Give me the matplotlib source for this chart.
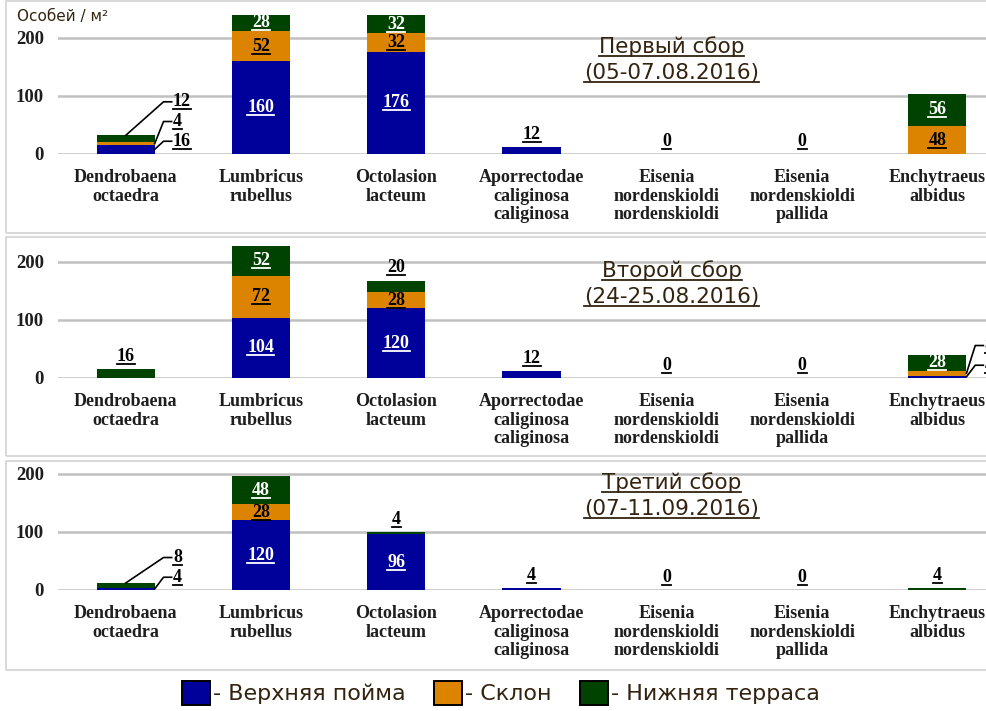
import matplotlib
matplotlib.use("Agg")
import matplotlib.pyplot as plt
from matplotlib.patches import Patch, Rectangle
from matplotlib.lines import Line2D

# ---------------- data ----------------
species = ["Dendrobaena\noctaedra", "Lumbricus\nrubellus", "Octolasion\nlacteum",
           "Aporrectodae\ncaliginosa\ncaliginosa", "Eisenia\nnordenskioldi\nnordenskioldi",
           "Eisenia\nnordenskioldi\npallida", "Enchytraeus\nalbidus"]
habitats = ["Верхняя пойма", "Склон", "Нижняя терраса"]
collections = ["Первый сбор", "Второй сбор", "Третий сбор"]
dates = ["(05-07.08.2016)", "(24-25.08.2016)", "(07-11.09.2016)"]
y_label = "Особей / м²"
yticks = [0, 100, 200]

upper_1 = [16, 160, 176, 12, 0, 0, 0]
slope_1 = [4, 52, 32, 0, 0, 0, 48]
terrace_1 = [12, 28, 32, 0, 0, 0, 56]

upper_2 = [0, 104, 120, 12, 0, 0, 4]
slope_2 = [0, 72, 28, 0, 0, 0, 8]
terrace_2 = [16, 52, 20, 0, 0, 0, 28]

upper_3 = [4, 120, 96, 4, 0, 0, 0]
slope_3 = [0, 28, 0, 0, 0, 0, 0]
terrace_3 = [8, 48, 4, 0, 0, 0, 4]

panels = [(upper_1, slope_1, terrace_1),
          (upper_2, slope_2, terrace_2),
          (upper_3, slope_3, terrace_3)]

# ---------------- style ----------------
colors = ["#00009A", "#DC8400", "#004300"]
label_colors = ["white", "black", "white"]
serif = ["Liberation Serif", "DejaVu Serif"]
sans = ["DejaVu Sans"]
text_dark = "#33230f"
grid_color = "#c0c0c0"
SMALL = 24
W = 0.43

fig = plt.figure(figsize=(9.86, 7.11), dpi=100)
FW, FH = 986.0, 711.0

# panel frames
for top, bot in [(1, 233), (237, 456), (461, 670)]:
    fig.add_artist(Rectangle((6 / FW, 1 - bot / FH), 1.0, (bot - top) / FH,
                             transform=fig.transFigure, fill=False,
                             edgecolor="#d6d6d6", lw=1.3, zorder=0))

zero_px = [154, 378, 590]
underline = []


def add_text(ax, s, xy, color, offset=(0, 0), ha="center", va="center"):
    t = ax.annotate(s, xy=xy, xytext=offset, textcoords="offset points", ha=ha, va=va,
                    fontsize=13, fontweight="bold", family=serif, color=color,
                    annotation_clip=False, zorder=6)
    underline.append(t)
    return t


for p, (series, zp) in enumerate(zip(panels, zero_px)):
    ax = fig.add_axes([58 / FW, (FH - zp) / FH, 947 / FW, 145 / FH])
    ax.patch.set_alpha(0)
    x = list(range(len(species)))
    bottoms = [0] * len(species)
    for vals, c in zip(series, colors):
        ax.bar(x, vals, bottom=bottoms, width=W, color=c, lw=0, zorder=3)
        bottoms = [b + v for b, v in zip(bottoms, vals)]
    ax.set_xlim(-0.5, len(species) - 0.5)
    ax.set_ylim(0, 250)
    ax.set_yticks(yticks)
    ax.set_yticklabels([str(v) for v in yticks], family=serif, fontweight="bold",
                       fontsize=13.5, color="#1e1e1e")
    ax.set_xticks(x)
    ax.set_xticklabels(species, family=serif, fontweight="bold", fontsize=13,
                       color="#1e1e1e", linespacing=1.1)
    ax.tick_params(length=0, axis="y", pad=10)
    ax.tick_params(length=0, axis="x", pad=11)
    ax.yaxis.grid(True, color=grid_color, lw=1.8, zorder=0)
    ax.set_axisbelow(True)
    for s in ax.spines.values():
        s.set_visible(False)

    # value labels
    for j in x:
        vals = [s[j] for s in series]
        total = sum(vals)
        nz = [k for k, v in enumerate(vals) if v > 0]
        if not nz:
            add_text(ax, "0", (j, 0), "black", offset=(0, 3), va="bottom")
            continue
        small = [k for k in nz if vals[k] < SMALL]
        big = [k for k in nz if vals[k] >= SMALL]
        for k in big:
            b = sum(vals[:k])
            add_text(ax, str(vals[k]), (j, b + vals[k] / 2), label_colors[k])
        if len(small) == 1 and small[0] == nz[-1]:
            add_text(ax, str(vals[small[0]]), (j, total), "black", offset=(0, 3), va="bottom")
        else:
            for idx, k in enumerate(small):
                b = sum(vals[:k])
                ly = 22 + 34 * idx
                if k == nz[-1]:
                    sx, sy = j, total
                else:
                    sx, sy = j + W / 2, b + vals[k] / 2
                ax.plot([sx, j + 0.28, j + 0.34], [sy, ly, ly], color="black",
                        lw=1.2, clip_on=False, zorder=5)
                add_text(ax, str(vals[k]), (j + 0.35, ly), "black", offset=(0, 0),
                         ha="left", va="center")

    # titles
    for txt, fy in [(collections[p], 0.738), (dates[p], 0.556)]:
        t = ax.text(0.648, fy, txt, transform=ax.transAxes, ha="center", va="center",
                    fontsize=15.5, family=sans, color=text_dark, zorder=6)
        underline.append(t)

fig.text(17 / FW, 1 - 17 / FH, y_label, fontsize=11, family=sans, color=text_dark,
         ha="left", va="center")

# legend
handles = [Patch(facecolor=c, edgecolor="black", lw=1.4) for c in colors]
fig.legend(handles, ["- " + h for h in habitats], loc="center", ncol=3,
           bbox_to_anchor=(0.508, 1 - 693 / FH), frameon=False,
           prop={"family": sans, "size": 16}, handlelength=1.25, handleheight=1.35,
           handletextpad=0.12, columnspacing=1.3, labelcolor=text_dark)

# underlines
fig.canvas.draw()
r = fig.canvas.get_renderer()
inv = fig.transFigure.inverted()
for t in underline:
    bb = t.get_window_extent(r)
    (x0, y0), (x1, _) = inv.transform([(bb.x0, bb.y0 + 1), (bb.x1, bb.y0 + 1)])
    fig.add_artist(Line2D([x0, x1], [y0, y0], transform=fig.transFigure,
                          color=t.get_color(), lw=1.3, zorder=7))

fig.savefig("out.png", dpi=100)
